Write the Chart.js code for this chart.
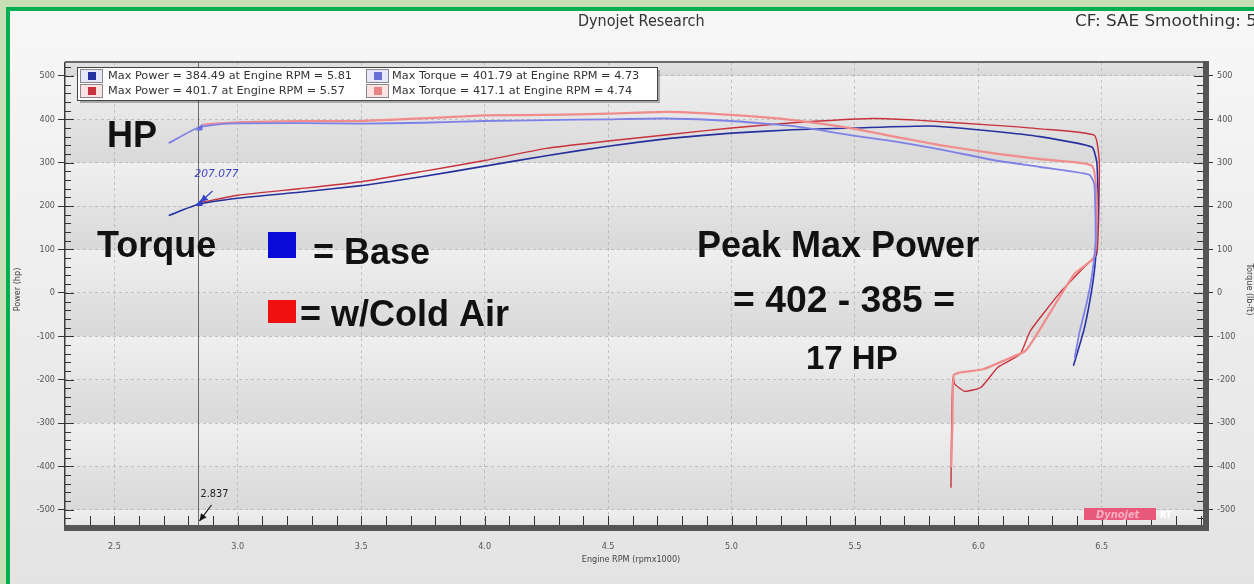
<!DOCTYPE html>
<html>
<head>
<meta charset="utf-8">
<script src="https://cdn.jsdelivr.net/npm/chart.js@4.4.0/dist/chart.umd.min.js"></script>
<style>
  html, body { margin: 0; padding: 0; background: #c6e0b4; }
  #wrap { position: absolute; left: 0; top: 0; width: 1254px; height: 584px; overflow: hidden; }
  #frame { position: absolute; left: 6px; top: 7px; width: 1260px; height: 590px;
           border-left: 4px solid #00b050; border-top: 4px solid #00b050;
           background: linear-gradient(#f7f7f7, #e3e3e3); }
  canvas { position: absolute; left: 0; top: 0; }
</style>
</head>
<body>
<div id="wrap">
  <div id="frame"></div>
  <canvas id="dynoChart" width="1254" height="584"></canvas>
</div>
<script>
// run data (rpm x1000)
const basePowerRpm = [2.72, 2.84, 3.0, 3.25, 3.5, 3.75, 4.0, 4.25, 4.5, 4.75, 5.0, 5.25, 5.5, 5.81, 6.07, 6.25, 6.46, 6.48, 6.485, 6.475, 6.46, 6.43, 6.40, 6.385];
const basePower    = [178, 204, 218, 232, 247, 268, 292, 316, 338, 356, 368, 376, 380, 384.5, 372, 360, 336, 300, 200, 80, 10, -80, -140, -168];

const baseTorqueRpm = [2.72, 2.84, 2.95, 3.25, 3.5, 3.75, 4.0, 4.25, 4.5, 4.73, 5.0, 5.25, 5.5, 5.66, 5.85, 6.07, 6.25, 6.45, 6.47, 6.475, 6.46, 6.44, 6.41, 6.39];
const baseTorque    = [345, 381, 390, 391, 390, 392, 396, 398, 400, 401.8, 396, 384, 362, 349, 330, 305, 290, 272, 250, 120, 40, -20, -90, -150];

const coldPowerRpm = [2.84, 3.0, 3.25, 3.5, 3.75, 4.0, 4.25, 4.5, 4.75, 5.0, 5.25, 5.57, 5.75, 6.07, 6.25, 6.47, 6.49, 6.48, 6.43, 6.33, 6.21, 6.17, 6.08, 6.01, 5.945, 5.905, 5.897, 5.892, 5.889];
const coldPower    = [207, 225, 240, 256, 280, 305, 333, 350, 365, 380, 392, 401.7, 398, 386, 378, 363, 300, 90, 60, 0, -88, -141, -171, -218, -227, -211, -195, -300, -449];

const coldTorqueRpm = [2.86, 3.0, 3.25, 3.5, 3.75, 4.0, 4.25, 4.5, 4.74, 5.0, 5.25, 5.5, 5.66, 5.85, 6.07, 6.25, 6.46, 6.48, 6.47, 6.39, 6.33, 6.23, 6.19, 6.10, 6.02, 5.93, 5.90, 5.895, 5.89];
const coldTorque    = [388, 393, 396, 396, 402, 409, 410, 413, 417.1, 410, 398, 378, 360, 340, 321, 308, 293, 200, 83, 44, -9, -102, -134, -157, -176, -183, -190, -300, -402];

const xTicks = [2.5, 3.0, 3.5, 4.0, 4.5, 5.0, 5.5, 6.0, 6.5];
const yTicks = [-500, -400, -300, -200, -100, 0, 100, 200, 300, 400, 500];

const legendLabels = [
  'Max Power = 384.49 at Engine RPM = 5.81',
  'Max Power = 401.7 at Engine RPM = 5.57',
  'Max Torque = 401.79 at Engine RPM = 4.73',
  'Max Torque = 417.1 at Engine RPM = 4.74'
];

const cursorRpm = 2.837;
const cursorPower = 207.077;
const cursorTorque = 381;

const BLUE = '#26309e', RED = '#c8323c', LBLUE = '#7e82e6', LRED = '#f08c8c';
const COND = '"DejaVu Sans Condensed", "DejaVu Sans"';

function pts(xs, ys) { return xs.map((x, i) => ({ x: x, y: ys[i] })); }

function arrow(ctx, x1, y1, x2, y2, color) {
  ctx.strokeStyle = color; ctx.fillStyle = color; ctx.lineWidth = 1.2;
  ctx.beginPath(); ctx.moveTo(x1, y1); ctx.lineTo(x2, y2); ctx.stroke();
  const a = Math.atan2(y2 - y1, x2 - x1);
  ctx.beginPath();
  ctx.moveTo(x2, y2);
  ctx.lineTo(x2 - 8 * Math.cos(a - 0.45), y2 - 8 * Math.sin(a - 0.45));
  ctx.lineTo(x2 - 8 * Math.cos(a + 0.45), y2 - 8 * Math.sin(a + 0.45));
  ctx.closePath(); ctx.fill();
}

// text stretched sideways to a given width
function wideText(ctx, txt, x, y, width) {
  const w = ctx.measureText(txt).width;
  ctx.save(); ctx.translate(x, y); ctx.scale(width / w, 1);
  ctx.fillText(txt, 0, 0); ctx.restore();
}

// background bands, frame, minor ticks, legend and notes
const dynoDecor = {
  id: 'dynoDecor',
  beforeDraw(chart) {
    const { ctx, chartArea: a, scales: { y } } = chart;
    ctx.save();
    ctx.fillStyle = '#e9e9e9';
    ctx.fillRect(a.left, a.top, a.right - a.left, a.bottom - a.top);
    for (let v = -600; v < 600; v += 100) {
      const top = Math.max(y.getPixelForValue(v + 100), a.top);
      const bot = Math.min(y.getPixelForValue(v), a.bottom);
      if (bot <= top) continue;
      const dark = ((v / 100) % 2 + 2) % 2 === 1;
      const g = ctx.createLinearGradient(0, top, 0, bot);
      g.addColorStop(0, dark ? '#e2e2e2' : '#efefef');
      g.addColorStop(1, dark ? '#d9d9d9' : '#e6e6e6');
      ctx.fillStyle = g;
      ctx.fillRect(a.left, top, a.right - a.left, bot - top);
    }
    ctx.restore();
  },
  afterDatasetsDraw(chart) {
    const { ctx, chartArea: a, scales: { x, y } } = chart;
    ctx.save();

    // cursor line
    const cx = Math.round(x.getPixelForValue(cursorRpm)) + 0.5;
    ctx.strokeStyle = '#6a6a6a'; ctx.lineWidth = 1;
    ctx.beginPath(); ctx.moveTo(cx, a.top); ctx.lineTo(cx, a.bottom); ctx.stroke();

    // frame
    ctx.fillStyle = '#6a6a6a';
    ctx.fillRect(a.left, a.top - 1, a.right - a.left, 2);
    ctx.fillStyle = '#3c3c3c';
    ctx.fillRect(a.left - 1, a.top, 1.5, a.bottom - a.top);
    ctx.fillStyle = '#555';
    ctx.fillRect(a.right, a.top - 1, 6, a.bottom - a.top + 7);
    ctx.fillRect(a.left - 1, a.bottom, a.right - a.left + 7, 6);

    // minor ticks
    ctx.strokeStyle = '#333'; ctx.lineWidth = 1;
    ctx.beginPath();
    for (let v = -520; v <= 520; v += 20) {
      const py = Math.round(y.getPixelForValue(v)) + 0.5;
      if (py < a.top || py > a.bottom) continue;
      const len = v % 100 === 0 ? 9 : 6;
      ctx.moveTo(a.left, py); ctx.lineTo(a.left + len, py);
      ctx.moveTo(a.right, py); ctx.lineTo(a.right - len, py);
    }
    for (let r = 2.4; r <= 6.9; r += 0.1) {
      const px = Math.round(x.getPixelForValue(r)) + 0.5;
      if (px < a.left || px > a.right) continue;
      ctx.moveTo(px, a.bottom); ctx.lineTo(px, a.bottom - 9);
    }
    ctx.stroke();

    // axis titles
    ctx.fillStyle = '#444';
    ctx.font = '9px ' + COND;
    ctx.textAlign = 'center'; ctx.textBaseline = 'middle';
    ctx.save(); ctx.translate(18, (a.top + a.bottom) / 2 - 4); ctx.rotate(-Math.PI / 2);
    ctx.fillText('Power (hp)', 0, 0); ctx.restore();
    ctx.save(); ctx.translate(1249, (a.top + a.bottom) / 2 - 4); ctx.rotate(Math.PI / 2);
    ctx.fillText('Torque (lb-ft)', 0, 0); ctx.restore();
    ctx.fillText('Engine RPM (rpmx1000)', (a.left + a.right) / 2 - 3, 560);

    // header
    ctx.fillStyle = '#333';
    ctx.font = '16px ' + COND;
    ctx.textAlign = 'left'; ctx.textBaseline = 'middle';
    ctx.fillText('Dynojet Research', 578, 22);
    wideText(ctx, 'CF: SAE Smoothing: 5', 1075, 22, 182);

    // cursor readouts
    const py = y.getPixelForValue(cursorPower);
    const ty = y.getPixelForValue(cursorTorque);
    ctx.fillStyle = '#3340c8';
    ctx.beginPath(); ctx.moveTo(cx - 4, py + 3); ctx.lineTo(cx + 4, py - 5); ctx.lineTo(cx + 4, py + 3); ctx.closePath(); ctx.fill();
    ctx.fillStyle = '#6a6ee0';
    ctx.beginPath(); ctx.moveTo(cx - 3, ty + 3); ctx.lineTo(cx + 4, ty - 4); ctx.lineTo(cx + 4, ty + 3); ctx.closePath(); ctx.fill();
    arrow(ctx, cx + 14, py - 12, cx + 2, py - 1, '#3340c8');
    ctx.font = 'italic 10px ' + COND;
    ctx.fillStyle = '#3a44c0';
    wideText(ctx, cursorPower.toFixed(3), cx - 4, py - 29, 44);
    arrow(ctx, cx + 13, a.bottom - 20, cx + 1, a.bottom - 4, '#111');
    ctx.fillStyle = '#222';
    ctx.font = '10px ' + COND;
    wideText(ctx, cursorRpm.toFixed(3), cx + 2, a.bottom - 31, 28);

    // legend
    const lx = 77, ly = 67, lw = 580, lh = 33;
    ctx.fillStyle = 'rgba(0,0,0,0.28)'; ctx.fillRect(lx + 3, ly + 3, lw, lh);
    ctx.fillStyle = '#fff'; ctx.fillRect(lx, ly, lw, lh);
    ctx.strokeStyle = '#444'; ctx.lineWidth = 1;
    ctx.strokeRect(lx + 0.5, ly + 0.5, lw, lh);
    const cols = [{ ix: 80, tx: 108 }, { ix: 366, tx: 392 }];
    const icons = [BLUE, RED, '#6b70d8', '#e88484'];
    ctx.font = '10px ' + COND;
    const stretch = 244 / ctx.measureText(legendLabels[0]).width;
    for (let i = 0; i < 4; i++) {
      const c = cols[Math.floor(i / 2)], row = i % 2;
      const yy = ly + 2 + row * 15;
      ctx.strokeStyle = '#888';
      ctx.strokeRect(c.ix + 0.5, yy + 0.5, 22, 13);
      ctx.fillStyle = i % 2 ? '#fbe3e3' : '#e6e8fa';
      ctx.fillRect(c.ix + 1, yy + 1, 21, 12);
      ctx.fillStyle = icons[i];
      ctx.fillRect(c.ix + 8, yy + 3, 8, 8);
      ctx.fillStyle = '#333';
      wideText(ctx, legendLabels[i], c.tx, yy + 7.5, ctx.measureText(legendLabels[i]).width * stretch);
    }

    // notes written on the sheet
    ctx.fillStyle = '#111';
    ctx.textBaseline = 'alphabetic';
    ctx.font = 'bold 36px "Liberation Sans", Arial, sans-serif';
    ctx.fillText('HP', 107, 147);
    ctx.fillText('Torque', 97, 257);
    ctx.fillText('= Base', 313, 264);
    ctx.fillText('= w/Cold Air', 300, 326);
    ctx.fillText('Peak Max Power', 697, 257);
    wideText(ctx, '= 402 - 385 =', 733, 312, 222);
    ctx.font = 'bold 33px "Liberation Sans", Arial, sans-serif';
    ctx.fillText('17 HP', 806, 369);
    ctx.fillStyle = '#0a0ad8'; ctx.fillRect(268, 232, 28, 26);
    ctx.fillStyle = '#f01010'; ctx.fillRect(268, 300, 28, 23);

    // logo
    ctx.fillStyle = '#e8587a';
    ctx.fillRect(1084, 508, 72, 12);
    ctx.fillStyle = '#f6b0c0';
    ctx.font = 'italic bold 11px ' + COND;
    ctx.fillText('Dynojet', 1096, 518);
    ctx.fillStyle = '#fff';
    ctx.font = 'bold 8px "DejaVu Sans"';
    ctx.fillText('RT', 1160, 518);
    ctx.restore();
  }
};

const ctx = document.getElementById('dynoChart').getContext('2d');
new Chart(ctx, {
  type: 'scatter',
  data: {
    datasets: [
      { label: 'Base Torque', data: pts(baseTorqueRpm, baseTorque), borderColor: LBLUE, borderWidth: 1.8 },
      { label: 'Cold Air Torque', data: pts(coldTorqueRpm, coldTorque), borderColor: LRED, borderWidth: 2.2 },
      { label: 'Base Power', data: pts(basePowerRpm, basePower), borderColor: BLUE, borderWidth: 1.6 },
      { label: 'Cold Air Power', data: pts(coldPowerRpm, coldPower), borderColor: RED, borderWidth: 1.4 }
    ].map(d => Object.assign(d, { showLine: true, pointRadius: 0, tension: 0.15, fill: false }))
  },
  options: {
    responsive: false,
    animation: false,
    layout: { padding: { top: 62 } },
    plugins: { legend: { display: false }, tooltip: { enabled: false } },
    scales: {
      x: {
        type: 'linear', min: 2.30, max: 6.91,
        afterBuildTicks: s => { s.ticks = xTicks.map(v => ({ value: v })); },
        afterFit: s => { s.height = 59; },
        ticks: { color: '#555', font: { size: 9, family: COND }, padding: 10,
                 callback: v => Number(v).toFixed(1) },
        grid: { color: 'rgba(160,160,160,0.55)', tickColor: '#333', tickLength: 6, tickBorderDash: [] },
        border: { display: false, dash: [3, 3] }
      },
      y: {
        type: 'linear', position: 'left', min: -535, max: 532,
        afterBuildTicks: s => { s.ticks = yTicks.map(v => ({ value: v })); },
        afterFit: s => { s.width = 65; },
        ticks: { color: '#555', font: { size: 9, family: COND }, padding: 3 },
        grid: { color: 'rgba(160,160,160,0.55)', tickColor: '#333', tickLength: 7, tickBorderDash: [] },
        border: { display: false, dash: [3, 3] }
      },
      y2: {
        type: 'linear', position: 'right', min: -535, max: 532,
        afterBuildTicks: s => { s.ticks = yTicks.map(v => ({ value: v })); },
        afterFit: s => { s.width = 51; },
        ticks: { color: '#555', font: { size: 9, family: COND }, padding: 4 },
        grid: { drawOnChartArea: false, tickColor: '#333', tickLength: 10 },
        border: { display: false }
      }
    }
  },
  plugins: [dynoDecor]
});
</script>
</body>
</html>
